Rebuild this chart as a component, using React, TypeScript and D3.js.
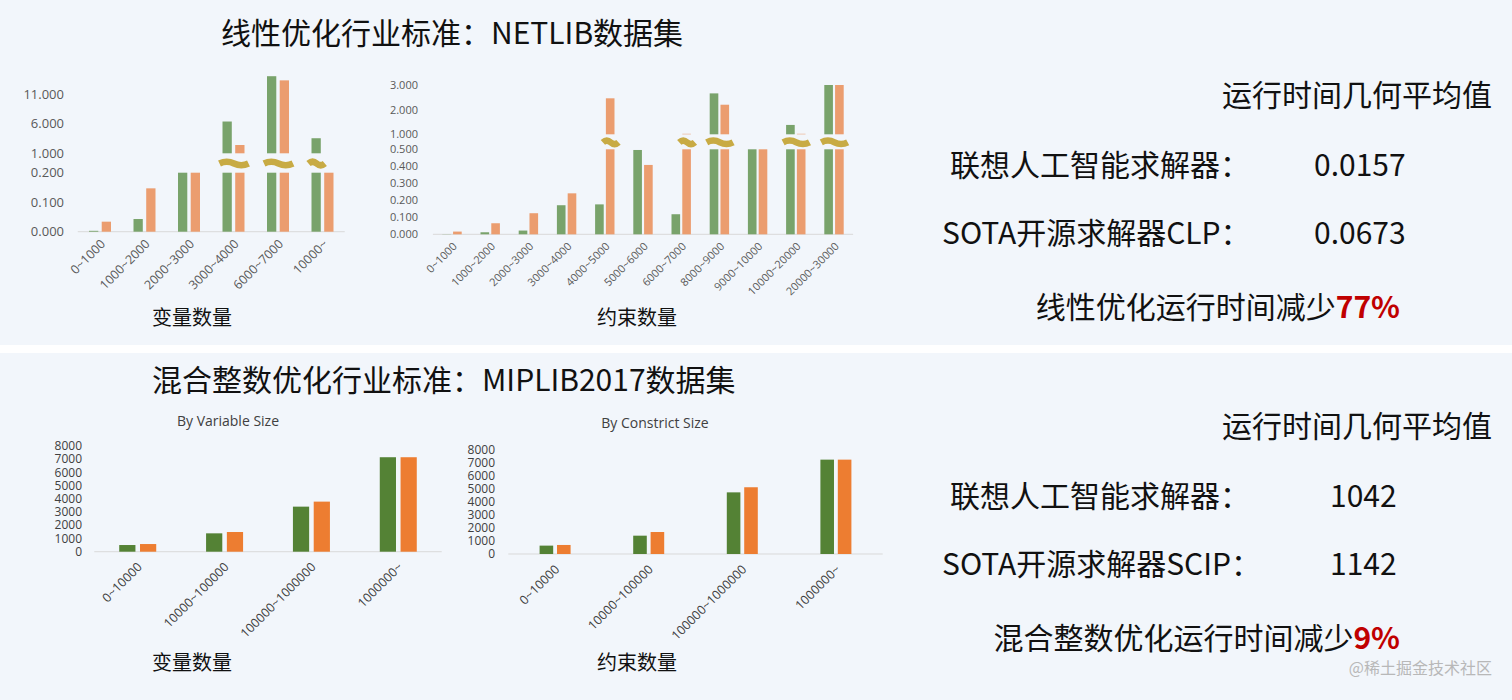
import * as d3 from 'd3';

const W = 1512;
const H = 700;
const BG = '#f2f6fb';
const CJK = '"Noto Sans CJK SC", "Noto Sans", sans-serif';
const TICK_FONT = '"Open Sans", "Noto Sans", sans-serif';

const LP_GREEN = '#79a36b';
const LP_ORANGE = '#eb9d6f';
const MIP_GREEN = '#548235';
const MIP_ORANGE = '#ed7d31';
const BREAK_COLOR = '#c8ab44';

// NETLIB, grouped by number of variables
const lpVarCats = ['0~1000', '1000~2000', '2000~3000', '3000~4000', '6000~7000', '10000~'];
const lpVarOurs = [0.003, 0.043, 0.2, 6.36, 14.0, 3.54];
const lpVarClp = [0.034, 0.147, 0.2, 2.4, 13.3, 0.2];
const lpVarLowTicks = [0, 0.1, 0.2];
const lpVarHighTicks = [1, 6, 11];

// NETLIB, grouped by number of constraints
const lpConCats = [
  '0~1000', '1000~2000', '2000~3000', '3000~4000', '4000~5000', '5000~6000',
  '6000~7000', '8000~9000', '9000~10000', '10000~20000', '20000~30000',
];
const lpConOurs = [0.001, 0.012, 0.022, 0.171, 0.176, 0.496, 0.118, 2.66, 0.5, 1.38, 3.0];
const lpConClp = [0.016, 0.065, 0.124, 0.241, 2.46, 0.408, 1.02, 2.2, 0.5, 1.02, 3.0];
const lpConLowTicks = [0, 0.1, 0.2, 0.3, 0.4, 0.5];
const lpConHighTicks = [1, 2, 3];

// MIPLIB2017
const mipCats = ['0~10000', '10000~100000', '100000~1000000', '1000000~'];
const mipVarOurs = [505, 1390, 3410, 7150];
const mipVarScip = [580, 1490, 3790, 7150];
const mipConOurs = [640, 1400, 4710, 7210];
const mipConScip = [690, 1680, 5100, 7210];
const mipTicks = d3.range(0, 8001, 1000);

interface BrokenProps {
  cats: string[];
  a: number[];
  b: number[];
  x0: number;
  x1: number;
  base: number;
  lowTop: number;
  lowMax: number;
  lowTicks: number[];
  highBottom: number;
  highTop: number;
  highMin: number;
  highMax: number;
  highTicks: number[];
  labelX: number;
  tickSize: number;
  catSize: number;
  span: number;
  pad: number;
}

const BrokenBarChart = (p: BrokenProps) => {
  const x = d3.scaleBand().domain(p.cats).range([p.x0, p.x1]);
  const inner = d3.scaleBand().domain(['a', 'b']).range([-p.span / 2, p.span / 2]).paddingInner(p.pad);
  const yLow = d3.scaleLinear().domain([0, p.lowMax]).range([p.base, p.lowTop]);
  const yHigh = d3.scaleLinear().domain([p.highMin, p.highMax]).range([p.highBottom, p.highTop]);
  const breakY = (p.lowTop + p.highBottom) / 2;
  const fmt = d3.format('.3f');
  const bw = inner.bandwidth();

  return (
    <g>
      {p.lowTicks.map(t => (
        <text key={'l' + t} x={p.labelX} y={yLow(t)} dy="0.35em" textAnchor="end"
          fontFamily={TICK_FONT} fontSize={p.tickSize} fill="#595959">{fmt(t)}</text>
      ))}
      {p.highTicks.map(t => (
        <text key={'h' + t} x={p.labelX} y={yHigh(t)} dy="0.35em" textAnchor="end"
          fontFamily={TICK_FONT} fontSize={p.tickSize} fill="#595959">{fmt(t)}</text>
      ))}
      <line x1={p.x0} x2={p.x1} y1={p.base} y2={p.base} stroke="#d9d9d9" strokeWidth={1} />
      {p.cats.map((c, i) => {
        const cx = (x(c) || 0) + x.bandwidth() / 2;
        const bars = [
          { key: 'a', v: p.a[i], color: LP_GREEN },
          { key: 'b', v: p.b[i], color: LP_ORANGE },
        ];
        const broken = bars.filter(d => d.v > p.highMin);
        const wx1 = broken.length ? cx + (inner(broken[0].key) || 0) - 3 : 0;
        const wx2 = broken.length ? cx + (inner(broken[broken.length - 1].key) || 0) + bw + 4 : 0;
        const ww = wx2 - wx1;
        return (
          <g key={c}>
            {bars.map(d => {
              const bx = cx + (inner(d.key) || 0);
              const lowY = yLow(Math.min(d.v, p.lowMax));
              return (
                <g key={d.key}>
                  <rect x={bx} y={lowY} width={bw} height={p.base - lowY} fill={d.color} />
                  {d.v > p.highMin && (
                    <rect x={bx} y={yHigh(d.v)} width={bw} height={p.highBottom - yHigh(d.v)} fill={d.color} />
                  )}
                </g>
              );
            })}
            {broken.length > 0 && (
              <path
                d={`M${wx1},${breakY + 0.5} q${ww / 4},-3.5 ${ww / 2},0 t${ww / 2},0`}
                fill="none" stroke={BREAK_COLOR} strokeWidth={6.5}
              />
            )}
            <text transform={`translate(${cx + 3},${p.base + 10}) rotate(-45)`} textAnchor="end"
              dy="0.35em" fontFamily={TICK_FONT} fontSize={p.catSize} fill="#595959">{c}</text>
          </g>
        );
      })}
    </g>
  );
};

interface SimpleProps {
  title: string;
  titleX: number;
  titleY: number;
  cats: string[];
  a: number[];
  b: number[];
  x0: number;
  x1: number;
  base: number;
  top: number;
  labelX: number;
  span: number;
}

const SimpleBarChart = (p: SimpleProps) => {
  const x = d3.scaleBand().domain(p.cats).range([p.x0, p.x1]);
  const inner = d3.scaleBand().domain(['a', 'b']).range([-p.span / 2, p.span / 2]).paddingInner(0.22);
  const y = d3.scaleLinear().domain([0, 8000]).range([p.base, p.top]);
  const bw = inner.bandwidth();
  return (
    <g>
      <text x={p.titleX} y={p.titleY} dy="0.35em" textAnchor="middle" fontFamily={TICK_FONT}
        fontSize={14} fill="#404040">{p.title}</text>
      {mipTicks.map(t => (
        <text key={t} x={p.labelX} y={y(t)} dy="0.35em" textAnchor="end" fontFamily={TICK_FONT}
          fontSize={12} fill="#404040">{t}</text>
      ))}
      <line x1={p.x0} x2={p.x1} y1={p.base} y2={p.base} stroke="#d9d9d9" strokeWidth={1} />
      {p.cats.map((c, i) => {
        const cx = (x(c) || 0) + x.bandwidth() / 2;
        return (
          <g key={c}>
            <rect x={cx + (inner('a') || 0)} y={y(p.a[i])} width={bw} height={p.base - y(p.a[i])} fill={MIP_GREEN} />
            <rect x={cx + (inner('b') || 0)} y={y(p.b[i])} width={bw} height={p.base - y(p.b[i])} fill={MIP_ORANGE} />
            <text transform={`translate(${cx + 2},${p.base + 13}) rotate(-45)`} textAnchor="end" dy="0.35em"
              fontFamily={TICK_FONT} fontSize={12.5} fill="#404040">{c}</text>
          </g>
        );
      })}
    </g>
  );
};

const Summary = ({ y0, ours, sota, sotaName, label, pct, valueX }: {
  y0: number; ours: string; sota: string; sotaName: string;
  label: string; pct: string; valueX: number;
}) => (
  <g fontFamily={CJK} fill="#111" fontSize={30}>
    <text x={1492} y={y0} textAnchor="end">运行时间几何平均值</text>
    <text x={950} y={y0 + 70}>联想人工智能求解器：</text>
    <text x={valueX} y={y0 + 70}>{ours}</text>
    <text x={942} y={y0 + 138}>{sotaName}</text>
    <text x={valueX} y={y0 + 138}>{sota}</text>
    <text x={1400} y={y0 + 212} textAnchor="end">
      {label}<tspan fill="#c00000" fontWeight="bold">{pct}</tspan>
    </text>
  </g>
);

export default function App() {
  return (
    <svg width={W} height={H} style={{ position: 'absolute', left: 0, top: 0, display: 'block' }}>
      <rect x={0} y={0} width={W} height={H} fill={BG} />
      <rect x={0} y={345} width={W} height={8} fill="#ffffff" />

      <text x={221} y={44} fontFamily={CJK} fontSize={30} fill="#111">线性优化行业标准：NETLIB数据集</text>
      <text x={152} y={391} fontFamily={CJK} fontSize={30} fill="#111">混合整数优化行业标准：MIPLIB2017数据集</text>

      <BrokenBarChart
        cats={lpVarCats} a={lpVarOurs} b={lpVarClp}
        x0={77.75} x1={344.75} base={231.7}
        lowTop={172.7} lowMax={0.2} lowTicks={lpVarLowTicks}
        highBottom={153.3} highTop={94} highMin={1} highMax={11} highTicks={lpVarHighTicks}
        labelX={64} tickSize={13} catSize={12.5} span={22} pad={0.27}
      />
      <text x={192} y={325} textAnchor="middle" fontFamily={CJK} fontSize={20} fill="#111">变量数量</text>

      <BrokenBarChart
        cats={lpConCats} a={lpConOurs} b={lpConClp}
        x0={432.9} x1={853.1} base={234.3}
        lowTop={149.3} lowMax={0.5} lowTicks={lpConLowTicks}
        highBottom={134.3} highTop={85} highMin={1} highMax={3} highTicks={lpConHighTicks}
        labelX={418} tickSize={11} catSize={11} span={19.4} pad={0.2}
      />
      <text x={637} y={325} textAnchor="middle" fontFamily={CJK} fontSize={20} fill="#111">约束数量</text>

      <SimpleBarChart
        title="By Variable Size" titleX={228} titleY={421}
        cats={mipCats} a={mipVarOurs} b={mipVarScip}
        x0={94.3} x1={441.7} base={551.7} top={446} labelX={82} span={37}
      />
      <text x={192} y={670} textAnchor="middle" fontFamily={CJK} fontSize={20} fill="#111">变量数量</text>

      <SimpleBarChart
        title="By Constrict Size" titleX={655} titleY={423}
        cats={mipCats} a={mipConOurs} b={mipConScip}
        x0={508.3} x1={882.7} base={554} top={449.3} labelX={495} span={31}
      />
      <text x={637} y={670} textAnchor="middle" fontFamily={CJK} fontSize={20} fill="#111">约束数量</text>

      <Summary y0={106} ours="0.0157" sota="0.0673" sotaName="SOTA开源求解器CLP："
        label="线性优化运行时间减少" pct="77%" valueX={1314} />
      <Summary y0={437} ours="1042" sota="1142" sotaName="SOTA开源求解器SCIP："
        label="混合整数优化运行时间减少" pct="9%" valueX={1330} />

      <text x={1492} y={674} textAnchor="end" fontFamily={CJK} fontSize={16} fill="#b8b8b8">@稀土掘金技术社区</text>
    </svg>
  );
}
